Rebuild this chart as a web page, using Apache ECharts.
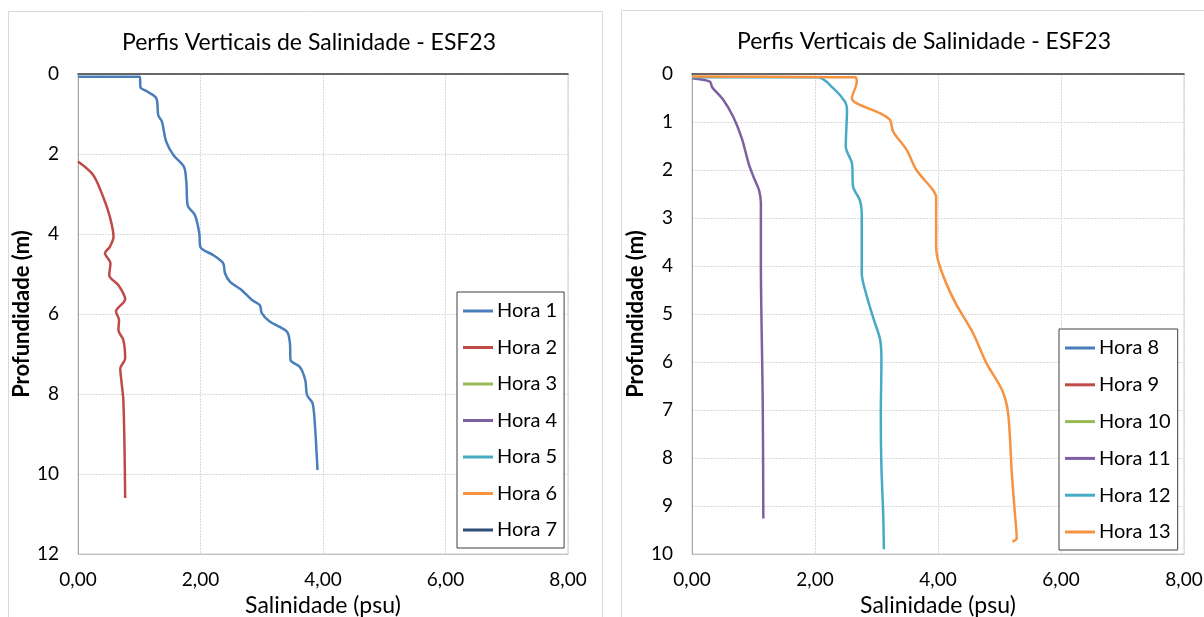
<!DOCTYPE html>
<html>
<head>
<meta charset="utf-8">
<script src="https://cdn.jsdelivr.net/npm/echarts@6/dist/echarts.min.js"></script>
<style>
  html, body { margin: 0; padding: 0; background: #fff; }
  #chart { width: 1204px; height: 617px; }
</style>
</head>
<body>
<div id="chart"></div>
<script>
// ---------- DATA ----------
const chartTitle = 'Perfis Verticais de Salinidade - ESF23';
const xAxisName = 'Salinidade (psu)';
const yAxisName = 'Profundidade (m)';
const xTickLabels = ['0,00', '2,00', '4,00', '6,00', '8,00'];

const leftSeriesNames = ['Hora 1', 'Hora 2', 'Hora 3', 'Hora 4', 'Hora 5', 'Hora 6', 'Hora 7'];
const rightSeriesNames = ['Hora 8', 'Hora 9', 'Hora 10', 'Hora 11', 'Hora 12', 'Hora 13'];

// Hora 1
const hora1Sal = [0, 1.01, 1.02, 1.13, 1.28, 1.31, 1.37, 1.44, 1.56, 1.73, 1.77, 1.79, 1.91, 1.98, 2.00, 2.21, 2.37, 2.40, 2.48, 2.67, 2.84, 2.97, 3.00, 3.13, 3.41, 3.46, 3.47, 3.62, 3.71, 3.74, 3.83, 3.87, 3.91];
const hora1Prof = [0.07, 0.07, 0.33, 0.44, 0.61, 1.03, 1.19, 1.69, 2.03, 2.32, 2.73, 3.28, 3.53, 3.98, 4.33, 4.53, 4.73, 4.98, 5.19, 5.40, 5.65, 5.78, 5.98, 6.19, 6.44, 6.73, 7.15, 7.32, 7.65, 8.03, 8.23, 8.82, 9.90];
// Hora 2
const hora2Sal = [0, 0.25, 0.41, 0.52, 0.58, 0.52, 0.44, 0.53, 0.51, 0.66, 0.77, 0.62, 0.67, 0.66, 0.74, 0.77, 0.69, 0.71, 0.74, 0.76, 0.77];
const hora2Prof = [2.19, 2.53, 3.07, 3.57, 4.07, 4.32, 4.48, 4.73, 5.03, 5.28, 5.63, 5.94, 6.15, 6.40, 6.65, 7.11, 7.36, 7.69, 8.15, 9.40, 10.60];
// Hora 3 - 10 : no visible data
const hora3Sal = [], hora3Prof = [];
const hora4Sal = [], hora4Prof = [];
const hora5Sal = [], hora5Prof = [];
const hora6Sal = [], hora6Prof = [];
const hora7Sal = [], hora7Prof = [];
const hora8Sal = [], hora8Prof = [];
const hora9Sal = [], hora9Prof = [];
const hora10Sal = [], hora10Prof = [];
// Hora 11
const hora11Sal = [0, 0.29, 0.33, 0.51, 0.67, 0.81, 0.92, 1.00, 1.09, 1.12, 1.12, 1.13, 1.15, 1.16];
const hora11Prof = [0.09, 0.16, 0.28, 0.54, 0.89, 1.34, 1.86, 2.14, 2.42, 2.69, 4.00, 5.13, 6.79, 9.26];
// Hora 12
const hora12Sal = [0, 2.05, 2.30, 2.49, 2.52, 2.50, 2.60, 2.62, 2.73, 2.76, 2.76, 2.84, 2.95, 3.06, 3.08, 3.07, 3.08, 3.11, 3.12];
const hora12Prof = [0.07, 0.07, 0.30, 0.58, 0.75, 1.51, 1.86, 2.35, 2.63, 2.90, 4.15, 4.62, 5.09, 5.54, 5.96, 7.14, 8.18, 9.22, 9.90];
// Hora 13
const hora13Sal = [0, 2.65, 2.68, 2.60, 2.68, 3.06, 3.22, 3.27, 3.49, 3.65, 3.92, 3.97, 3.97, 4.03, 4.26, 4.57, 4.79, 5.04, 5.14, 5.20, 5.25, 5.28, 5.21];
const hora13Prof = [0.05, 0.07, 0.16, 0.51, 0.61, 0.82, 0.96, 1.20, 1.58, 2.00, 2.42, 2.56, 3.60, 4.01, 4.71, 5.40, 6.03, 6.58, 7.07, 8.32, 9.15, 9.67, 9.74];

const leftSal = [hora1Sal, hora2Sal, hora3Sal, hora4Sal, hora5Sal, hora6Sal, hora7Sal];
const leftProf = [hora1Prof, hora2Prof, hora3Prof, hora4Prof, hora5Prof, hora6Prof, hora7Prof];
const rightSal = [hora8Sal, hora9Sal, hora10Sal, hora11Sal, hora12Sal, hora13Sal];
const rightProf = [hora8Prof, hora9Prof, hora10Prof, hora11Prof, hora12Prof, hora13Prof];

const leftColors = ['#4A7EBB', '#BE4B48', '#98B954', '#7D60A0', '#46AAC5', '#F69240', '#2C4D75'];
const rightColors = ['#4A7EBB', '#BE4B48', '#98B954', '#7D60A0', '#46AAC5', '#F69240'];

// ---------- CHART ----------
const FONT = 'Lato, "Open Sans", sans-serif';
const chart = echarts.init(document.getElementById('chart'));

function zip(a, b) { return a.map((v, i) => [v, b[i]]); }

function makeSeries(names, sals, profs, colors, gi) {
  return names.map((n, i) => ({
    name: n,
    type: 'line',
    xAxisIndex: gi * 2,
    yAxisIndex: gi,
    data: zip(sals[i], profs[i]),
    symbol: 'none',
    smooth: 0.3,
    color: colors[i],
    lineStyle: { width: 2.5, color: colors[i] },
    z: 3
  }));
}

function xAxes(gi) {
  return [
    {
      gridIndex: gi, type: 'value', position: 'bottom', min: 0, max: 8, interval: 2,
      name: xAxisName, nameLocation: 'middle', nameGap: 40,
      nameTextStyle: { fontFamily: FONT, fontSize: 23, color: '#000' },
      axisLine: { show: true, onZero: false, lineStyle: { color: '#bfbfbf', width: 1 } },
      axisTick: { show: false },
      axisLabel: { fontFamily: FONT, fontSize: 19, color: '#000', margin: 16,
        formatter: v => xTickLabels[Math.round(v / 2)] },
      splitLine: { show: true, lineStyle: { color: '#d9d9d9', type: [2, 1], width: 1 } }
    },
    {
      gridIndex: gi, type: 'value', position: 'top', min: 0, max: 8, interval: 2,
      axisLine: { show: true, onZero: false, lineStyle: { color: '#404040', width: 1.5 } },
      axisTick: { show: false }, axisLabel: { show: false }, splitLine: { show: false }
    }
  ];
}

function yAxis(gi, max, interval) {
  return {
    gridIndex: gi, type: 'value', inverse: true, min: 0, max: max, interval: interval,
    name: yAxisName, nameLocation: 'middle', nameRotate: 90, nameGap: 31,
    nameTextStyle: { fontFamily: FONT, fontSize: 22, fontWeight: 'bold', color: '#000' },
    axisLine: { show: true, onZero: false, lineStyle: { color: '#a6a6a6', width: 1 } },
    axisTick: { show: false },
    axisLabel: { fontFamily: FONT, fontSize: 19, color: '#000', margin: 19 },
    splitLine: { show: true, lineStyle: { color: '#d9d9d9', type: [2, 1], width: 1 } }
  };
}

function legend(names, left, top, gap) {
  return {
    data: names, orient: 'vertical', left: left, top: top,
    icon: 'rect', itemWidth: 30, itemHeight: 3, itemGap: gap,
    padding: [9, 7, 8, 6],
    borderColor: '#404040', borderWidth: 1, backgroundColor: '#fff',
    textStyle: { fontFamily: FONT, fontSize: 20, color: '#000', lineHeight: 20, padding: [0, 0, 0, -1] },
    selectedMode: false
  };
}

const option = {
  animation: false,
  backgroundColor: '#fff',
  graphic: [
    { type: 'rect', shape: { x: 8.5, y: 11.5, width: 594, height: 620 }, style: { fill: '#fff', stroke: '#d9d9d9', lineWidth: 1 }, z: -10 },
    { type: 'rect', shape: { x: 621.5, y: 10.5, width: 600, height: 620 }, style: { fill: '#fff', stroke: '#d9d9d9', lineWidth: 1 }, z: -10 }
  ],
  title: [
    { text: chartTitle, left: 304, top: 26, textAlign: 'center',
      textStyle: { fontFamily: FONT, fontSize: 23, fontWeight: 'normal', color: '#000' } },
    { text: chartTitle, left: 919, top: 25, textAlign: 'center',
      textStyle: { fontFamily: FONT, fontSize: 23, fontWeight: 'normal', color: '#000' } }
  ],
  grid: [
    { left: 78, top: 74, width: 490, height: 480, outerBoundsMode: 'none', containLabel: false,
      show: true, borderColor: '#d0d0d0', borderWidth: 1, backgroundColor: 'transparent' },
    { left: 692, top: 74, width: 492, height: 480, outerBoundsMode: 'none', containLabel: false,
      show: true, borderColor: '#d0d0d0', borderWidth: 1, backgroundColor: 'transparent' }
  ],
  xAxis: [...xAxes(0), ...xAxes(1)],
  yAxis: [yAxis(0, 12, 2), yAxis(1, 10, 1)],
  legend: [legend(leftSeriesNames, 457, 292, 16.5), legend(rightSeriesNames, 1059, 329, 16.8)],
  series: [
    ...makeSeries(leftSeriesNames, leftSal, leftProf, leftColors, 0),
    ...makeSeries(rightSeriesNames, rightSal, rightProf, rightColors, 1)
  ]
};
chart.setOption(option);
</script>
</body>
</html>
